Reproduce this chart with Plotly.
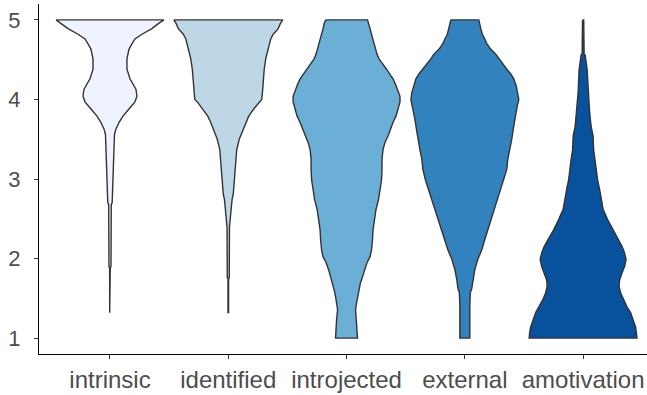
import plotly.graph_objects as go

# Categories and fill colours (ColorBrewer Blues, 5 classes)
categories = ["intrinsic", "identified", "introjected", "external", "amotivation"]
fills = ["#EFF3FF", "#BDD7E7", "#6BAED6", "#3182BD", "#08519C"]

# Violin profiles: score levels and relative density
# (density in arbitrary units; the widest violin reaches 54)
intrinsic_y = [5.00, 4.95, 4.89, 4.82, 4.76, 4.70, 4.63, 4.51, 4.38, 4.26, 4.13, 4.04, 3.97,
               3.88, 3.79, 3.71, 3.63, 3.56, 3.37, 3.12, 2.87, 2.70, 2.68, 2.36, 1.90, 1.88, 1.32]
intrinsic_d = [54, 48, 42, 32, 25, 22, 19, 17, 17, 20, 26, 27, 25,
               19, 13, 9, 6, 4.5, 4, 3.5, 2.5, 2.2, 1.3, 1.2, 1.0, 0.3, 0.3]

identified_y = [5.00, 4.95, 4.89, 4.82, 4.76, 4.63, 4.51, 4.38, 4.26, 4.13, 4.00, 3.97, 3.88,
                3.79, 3.71, 3.63, 3.50, 3.37, 3.18, 2.99, 2.81, 2.74, 2.62, 2.49, 2.39, 1.76,
                1.75, 1.32]
identified_d = [54.5, 52, 50, 45, 42.5, 40, 37.5, 36, 35, 34.5, 33.5, 31, 25.5,
                20.5, 17.5, 15, 11, 8.5, 7.5, 6, 5, 3.8, 2.8, 1.8, 1.2, 1.0,
                0.3, 0.3]

introjected_y = [5.00, 4.95, 4.89, 4.82, 4.76, 4.70, 4.63, 4.57, 4.51, 4.45, 4.38, 4.32, 4.26,
                 4.19, 4.13, 4.04, 3.97, 3.88, 3.79, 3.71, 3.63, 3.54, 3.46, 3.37, 3.25, 3.12,
                 2.99, 2.87, 2.74, 2.62, 2.49, 2.36, 2.24, 2.11, 2.02, 1.95, 1.86, 1.77, 1.70,
                 1.61, 1.52, 1.44, 1.36, 1.23, 1.00]
introjected_d = [21, 22.5, 23.5, 25, 26.5, 28, 29, 30.5, 32.5, 36, 40, 43.5, 46.5,
                 49, 51, 53.5, 53.5, 51.5, 49.5, 46.5, 44, 41.5, 38.5, 36.5, 35.5, 35.5,
                 35, 33.5, 32, 29.5, 28, 26.5, 26, 25, 23.5, 20.5, 18, 16, 14,
                 12.5, 11, 10, 9, 10, 11]

external_y = [5.00, 4.95, 4.89, 4.82, 4.76, 4.70, 4.63, 4.57, 4.51, 4.45, 4.38, 4.32, 4.26,
              4.17, 4.09, 4.00, 3.92, 3.84, 3.75, 3.63, 3.50, 3.37, 3.25, 3.12, 2.99, 2.87,
              2.74, 2.62, 2.49, 2.36, 2.24, 2.11, 1.99, 1.86, 1.73, 1.63, 1.57, 1.42, 1.00]
external_d = [14, 15, 16, 17.5, 20, 22, 26, 31, 34, 38, 42, 46, 49,
              51.5, 53, 54, 52.5, 51.5, 50, 48.5, 47, 45, 43, 42, 39.5, 36.5,
              33, 30, 27, 23, 20, 17, 13, 10, 8, 7, 5.5, 5, 5]

amotivation_y = [5.00, 4.57, 4.56, 4.38, 4.09, 3.84, 3.66, 3.54, 3.37, 3.25, 3.12, 2.99, 2.87,
                 2.74, 2.62, 2.49, 2.36, 2.24, 2.15, 2.07, 1.99, 1.90, 1.82, 1.73, 1.65, 1.57,
                 1.48, 1.39, 1.32, 1.23, 1.14, 1.07, 1.00]
amotivation_d = [0.6, 1.0, 2, 4, 5, 6.5, 8, 10, 10.5, 12, 13, 14.5, 16.5,
                 18.5, 20, 24.5, 29.5, 35, 39, 41.5, 43, 41.5, 39, 36.5, 36, 37.5,
                 40.5, 44, 47.5, 50, 52.5, 53.5, 54]

y_ticks = [1, 2, 3, 4, 5]

profiles = [
    (intrinsic_y, intrinsic_d),
    (identified_y, identified_d),
    (introjected_y, introjected_d),
    (external_y, external_d),
    (amotivation_y, amotivation_d),
]

MAX_DENSITY = 54.0
MAX_HALF_WIDTH = 0.456  # ggplot violin width 0.9 -> half ~0.45

fig = go.Figure()
for i, (cat, col, (ys, ds)) in enumerate(zip(categories, fills, profiles)):
    pos = i + 1
    hw = [d / MAX_DENSITY * MAX_HALF_WIDTH for d in ds]
    xs = [pos - h for h in hw] + [pos + h for h in reversed(hw)]
    yy = list(ys) + list(reversed(ys))
    xs.append(xs[0])
    yy.append(yy[0])
    fig.add_trace(go.Scatter(
        x=xs, y=yy, mode="lines", fill="toself", fillcolor=col,
        line=dict(color="#333333", width=1.4), name=cat,
        hoverinfo="skip", showlegend=False,
    ))

font_family = "Liberation Sans, Arial, sans-serif"
fig.update_layout(
    width=647, height=395,
    margin=dict(l=39, r=0, t=4, b=41),
    paper_bgcolor="white", plot_bgcolor="white",
    font=dict(family=font_family, size=22, color="#4D4D4D"),
    xaxis=dict(
        range=[0.4, 5.54], tickmode="array", tickvals=[1, 2, 3, 4, 5], ticktext=categories,
        showline=True, linecolor="black", linewidth=1.3, ticks="outside", ticklen=4,
        tickcolor="#333333", showgrid=False, zeroline=False, automargin=False,
        tickfont=dict(size=24, color="#4D4D4D"),
    ),
    yaxis=dict(
        range=[0.8, 5.2], tickmode="array", tickvals=y_ticks,
        showline=True, linecolor="black", linewidth=1.3, ticks="outside", ticklen=4,
        tickcolor="#333333", showgrid=False, zeroline=False, automargin=False,
        ticklabelstandoff=9,
        tickfont=dict(size=22, color="#4D4D4D"),
    ),
)

fig.write_html(
    "out.html",
    config={"displayModeBar": False},
    post_script="document.body.style.margin='0';document.body.style.overflow='hidden';",
)
